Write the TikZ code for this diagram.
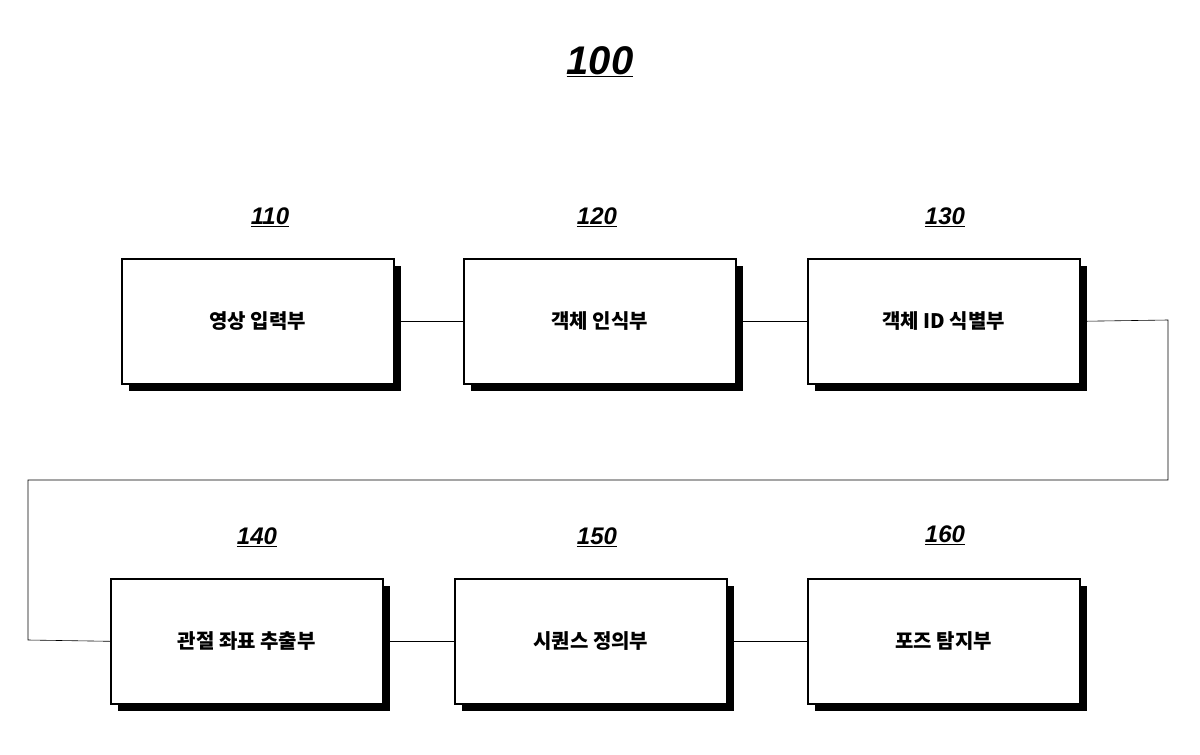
\documentclass[tikz,border=0pt]{standalone}
\usepackage{fontspec}
\newfontfamily\kr{Noto Sans CJK KR}
\newfontfamily\num{Liberation Sans}
\begin{document}
\begin{tikzpicture}[x=1pt,y=-1pt,
 box/.style={draw,line width=1.6pt,fill=white,minimum width=272pt,minimum height=125pt,font=\kr\bfseries\fontsize{20}{24}\selectfont},
 shad/.style={fill=black},
 lab/.style={font=\num\bfseries\itshape\fontsize{24}{28}\selectfont},
 ln/.style={line width=0.6pt}]
\useasboundingbox (0,0) rectangle (1200,755);
\def\bx#1#2#3#4{\fill (#2+8,#3+8) rectangle (#2+280,#3+133);
 \node[box,anchor=north west] (#1) at (#2,#3) {#4};}
\bx{a}{121}{258}{영상 입력부}
\bx{b}{463}{258}{객체 인식부}
\bx{c}{807}{258}{객체 ID 식별부}
\bx{d}{110}{578}{관절 좌표 추출부}
\bx{e}{454}{578}{시퀀스 정의부}
\bx{f}{807}{578}{포즈 탐지부}
\node[lab,font=\num\bfseries\itshape\fontsize{40}{44}\selectfont] (t) at (600,62) {\underline{100}};
\node[lab] (la) at (270,217) {\underline{110}};
\node[lab] (lb) at (597,217) {\underline{120}};
\node[lab] (lc) at (945,217) {\underline{130}};
\node[lab] (ld) at (257,537) {\underline{140}};
\node[lab] (le) at (597,537) {\underline{150}};
\node[lab] (lf) at (945,535) {\underline{160}};
\coordinate (p1) at (1168,320);
\coordinate (p2) at (1168,480);
\coordinate (p3) at (28,480);
\coordinate (p4) at (28,640);
\draw[ln] (a.east) -- (b.west);
\draw[ln] (b.east) -- (c.west);
\draw[ln] (c.east) -- (p1) -- (p2) -- (p3) -- (p4) -- (d.west);
\draw[ln] (d.east) -- (e.west);
\draw[ln] (e.east) -- (f.west);
\end{tikzpicture}
\end{document}
